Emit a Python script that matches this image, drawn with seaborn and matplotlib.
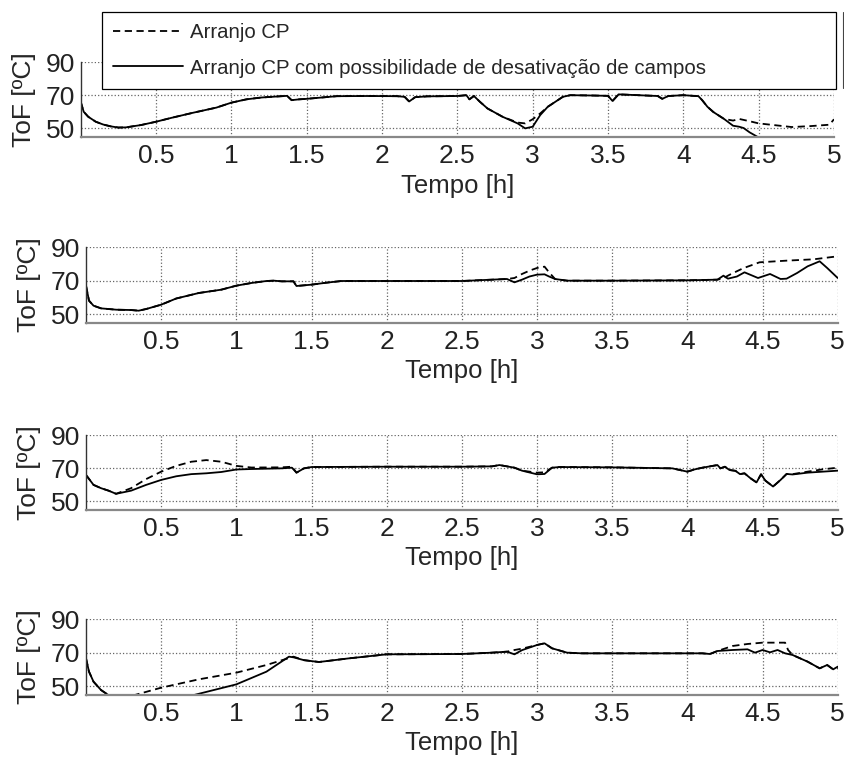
import numpy as np
import pandas as pd
import matplotlib
matplotlib.use("Agg")
import matplotlib.pyplot as plt
import seaborn as sns
from matplotlib.lines import Line2D

# --- Dados (tempo [h], ToF [ºC]) ---
# Painel 1
t1_cp = [0, 0.02, 0.05, 0.1, 0.15, 0.2, 0.25, 0.3, 0.4, 0.5, 0.6, 0.75, 0.9, 1.0, 1.1, 1.2, 1.3, 1.37, 1.4,
         1.45, 1.5, 1.6, 1.7, 1.9, 2.1, 2.15, 2.18, 2.22, 2.3, 2.5, 2.56, 2.58, 2.61, 2.65, 2.7, 2.8, 2.9,
         2.95, 3.0, 3.05, 3.1, 3.15, 3.2, 3.25, 3.4, 3.5, 3.53, 3.57, 3.7, 3.83, 3.86, 3.9, 4.0, 4.1, 4.125,
         4.16, 4.2, 4.27, 4.33, 4.37, 4.4, 4.44, 4.5, 4.6, 4.72, 4.85, 4.97, 5.0]
y1_cp = [66, 60, 57, 54, 52.3, 51.2, 50.5, 50.6, 52, 54, 56.3, 59.5, 62.5, 65.5, 67.5, 68.6, 69.2, 69.6, 67,
         67.5, 67.8, 68.6, 69.4, 69.5, 69.4, 69, 66.2, 68.8, 69.3, 69.5, 70, 67.5, 69.5, 66, 62, 57, 53.5,
         53, 55.5, 59, 63, 66, 69, 70, 69.8, 69.6, 66.5, 70.5, 70, 69.5, 67.8, 69.5, 70, 69.4, 67,
         63, 59.8, 55.7, 54.7, 55.7, 55.1, 54.3, 53, 52, 50.8, 51.4, 52.2, 55.5]
t1_des = [0, 0.02, 0.05, 0.1, 0.15, 0.2, 0.25, 0.3, 0.4, 0.5, 0.6, 0.75, 0.9, 1.0, 1.1, 1.2, 1.3, 1.37, 1.4,
          1.45, 1.5, 1.6, 1.7, 1.9, 2.1, 2.15, 2.18, 2.22, 2.3, 2.5, 2.56, 2.58, 2.61, 2.65, 2.7, 2.8, 2.9,
          2.95, 3.0, 3.05, 3.1, 3.15, 3.2, 3.25, 3.4, 3.5, 3.53, 3.57, 3.7, 3.83, 3.86, 3.9, 4.0, 4.1, 4.125,
          4.16, 4.2, 4.27, 4.33, 4.37, 4.4, 4.44, 4.5, 4.55]
y1_des = [66, 60, 57, 54, 52.3, 51.2, 50.5, 50.6, 52, 54, 56.3, 59.5, 62.5, 65.5, 67.5, 68.6, 69.2, 69.6, 67,
          67.5, 67.8, 68.6, 69.4, 69.5, 69.4, 69, 66.2, 68.8, 69.3, 69.5, 70, 67.5, 69.5, 66, 62, 57, 53,
          50, 51, 58, 63, 66, 69, 70, 69.8, 69.6, 66.5, 70.5, 70, 69.5, 67.8, 69.5, 70, 69.4, 67,
          63, 59.8, 55.7, 51.6, 51, 50.2, 47.6, 44.5, 42]

# Painel 2
t2_cp = [0, 0.02, 0.05, 0.1, 0.2, 0.3, 0.35, 0.4, 0.5, 0.6, 0.75, 0.9, 1.0, 1.1, 1.2, 1.25, 1.3, 1.38, 1.4,
         1.5, 1.6, 1.7, 2.0, 2.5, 2.7, 2.8, 2.85, 2.9, 2.95, 3.0, 3.05, 3.08, 3.12, 3.2, 3.5, 4.0, 4.2,
         4.24, 4.28, 4.37, 4.48, 4.66, 4.84, 5.0]
y2_cp = [67, 58, 55, 53.4, 52.6, 52.4, 52, 53, 55.6, 59.3, 62.6, 64.6, 67, 68.6, 69.8, 70, 69.6, 69.6, 66.8,
         67.6, 68.8, 69.8, 69.8, 69.8, 70.6, 71, 71.6, 74, 76, 77.6, 78.4, 75, 71, 70, 70, 70.2, 70.6,
         71.5, 73.5, 77.4, 81, 82, 82.8, 84.6]
t2_des = [0, 0.02, 0.05, 0.1, 0.2, 0.3, 0.35, 0.4, 0.5, 0.6, 0.75, 0.9, 1.0, 1.1, 1.2, 1.25, 1.3, 1.38, 1.4,
          1.5, 1.6, 1.7, 2.0, 2.5, 2.7, 2.8, 2.85, 2.9, 2.95, 3.0, 3.05, 3.08, 3.12, 3.2, 3.5, 4.0, 4.2,
          4.24, 4.27, 4.33, 4.38, 4.47, 4.55, 4.62, 4.66, 4.73, 4.8, 4.88, 4.93, 5.0]
y2_des = [67, 58, 55, 53.4, 52.6, 52.4, 52, 53, 55.6, 59.3, 62.6, 64.6, 67, 68.6, 69.8, 70, 69.6, 69.6, 66.8,
          67.6, 68.8, 69.8, 69.8, 69.8, 70.6, 71, 69, 70.6, 72.5, 73.6, 73.8, 72.5, 71, 70, 70, 70.2, 70.6,
          73, 71.2, 72.5, 75, 71.6, 74, 71, 71.2, 74.6, 78.6, 81.6, 77.6, 71.6]

# Painel 3
t3_cp = [0, 0.05, 0.1, 0.15, 0.2, 0.3, 0.4, 0.5, 0.6, 0.7, 0.8, 0.9, 1.0, 1.1, 1.3, 1.37, 1.4, 1.45, 1.5,
         2.0, 2.5, 2.7, 2.75, 2.85, 2.9, 3.0, 3.05, 3.1, 3.15, 3.5, 3.9, 4.0, 4.05, 4.1, 4.2, 4.22, 4.25,
         4.28, 4.32, 4.35, 4.38, 4.42, 4.46, 4.49, 4.52, 4.57, 4.62, 4.66, 4.7, 4.8, 4.9, 5.0]
y3_cp = [66, 60, 58, 56.5, 54.6, 58, 63.5, 68, 71.5, 74, 75, 74, 71.5, 70.5, 70.6, 71, 67.4, 70, 70.8,
         71, 71, 71.2, 72, 70.4, 68.6, 67.4, 67.6, 70.4, 70.8, 70.6, 70, 68, 69.4, 70.4, 72, 70, 71,
         69, 68.5, 66.5, 67, 64, 61.5, 66.4, 62.5, 59, 63, 66.6, 66.5, 68, 69.4, 70.4]
t3_des = [0, 0.05, 0.1, 0.15, 0.2, 0.3, 0.4, 0.5, 0.6, 0.7, 0.8, 0.9, 1.0, 1.1, 1.3, 1.37, 1.4, 1.45, 1.5,
          2.0, 2.5, 2.7, 2.75, 2.85, 2.9, 3.0, 3.05, 3.1, 3.15, 3.5, 3.9, 4.0, 4.05, 4.1, 4.2, 4.22, 4.25,
          4.28, 4.32, 4.35, 4.38, 4.42, 4.46, 4.49, 4.52, 4.57, 4.62, 4.66, 4.7, 4.8, 4.9, 5.0]
y3_des = [66, 60, 58, 56.5, 54.6, 56.5, 60, 63, 65.2, 66.5, 67, 67.8, 69.3, 69.6, 70, 70.4, 67.4, 70, 70.8,
          71, 71, 71.2, 72, 70.4, 68.6, 66.4, 66.6, 70.4, 70.8, 70.6, 70, 68, 69.4, 70.4, 72, 70, 71,
          69, 68.5, 66.5, 67, 64, 61.5, 66.4, 62.5, 59, 63, 66.6, 66.3, 67.4, 68, 68.6]

# Painel 4
t4_cp = [0, 0.02, 0.05, 0.1, 0.15, 0.2, 0.3, 0.5, 0.75, 1.0, 1.2, 1.38, 1.45, 1.55, 1.75, 2.0, 2.5, 2.7,
         2.8, 2.85, 2.9, 3.0, 3.05, 3.1, 3.2, 3.3, 4.1, 4.15, 4.2, 4.3, 4.4, 4.5, 4.65, 4.67, 4.7, 4.8,
         4.88, 4.93, 4.97, 5.0]
y4_cp = [66.6, 58.6, 52.6, 47.6, 44.5, 42, 44, 49, 54, 58, 62.6, 67.6, 65.5, 64.4, 66.6, 69, 69.2, 70,
         70.6, 71.6, 72.4, 74.6, 75.6, 72.6, 70, 69.6, 69.6, 69.2, 71, 74, 75.2, 76, 76, 71.6, 68.6, 64.6,
         60.6, 62.6, 60, 60.6]
t4_des = [0, 0.02, 0.05, 0.1, 0.15, 0.2, 0.7, 0.85, 1.0, 1.2, 1.35, 1.38, 1.45, 1.55, 1.75, 2.0, 2.5, 2.7,
          2.8, 2.85, 2.9, 3.0, 3.05, 3.1, 3.2, 3.3, 4.1, 4.15, 4.2, 4.3, 4.4, 4.45, 4.5, 4.55, 4.6, 4.65,
          4.7, 4.8, 4.88, 4.93, 4.97, 5.0]
y4_des = [66.6, 58.6, 52.6, 47.6, 44.5, 42, 44.2, 47.6, 51, 58.6, 67.6, 67.2, 65.5, 64.4, 66.6, 69, 69.2, 70,
          70.6, 69, 71.5, 74.6, 75.6, 72.6, 70, 69.6, 69.6, 69.2, 71, 71.6, 72, 70, 71.6, 70.2, 71.6, 69.6,
          68.6, 64.6, 60.6, 62.6, 60, 61.6]

paineis = [(t1_cp, y1_cp, t1_des, y1_des), (t2_cp, y2_cp, t2_des, y2_des),
           (t3_cp, y3_cp, t3_des, y3_des), (t4_cp, y4_cp, t4_des, y4_des)]

label_cp = "Arranjo CP"
label_des = "Arranjo CP com possibilidade de desativação de campos"
xticks = [0.5, 1, 1.5, 2, 2.5, 3, 3.5, 4, 4.5, 5]
xticklabels = ["0.5", "1", "1.5", "2", "2.5", "3", "3.5", "4", "4.5", "5"]
yticks = [50, 70, 90]

sns.set_style("white")
plt.rcParams["font.family"] = ["Liberation Sans", "DejaVu Sans"]

W, H = 845, 760
fig = plt.figure(figsize=(W / 100, H / 100), dpi=100)

# posições dos eixos em pixels: (esquerda, topo, direita, base)
boxes = [(80.7, 62, 834, 137), (86, 247.3, 837.7, 322.7),
         (86, 435.3, 837.7, 510), (86, 619.3, 837.7, 694.7)]

dash = (0, (4, 2.5))
for (tc, yc, td, yd), (l, t, r, b) in zip(paineis, boxes):
    ax = fig.add_axes([l / W, 1 - b / H, (r - l) / W, (b - t) / H])
    df_cp = pd.DataFrame({"Tempo": tc, "ToF": yc})
    df_des = pd.DataFrame({"Tempo": td, "ToF": yd})
    sns.lineplot(data=df_cp, x="Tempo", y="ToF", ax=ax, color="black", lw=1.3,
                 linestyle=dash, estimator=None, sort=False)
    sns.lineplot(data=df_des, x="Tempo", y="ToF", ax=ax, color="black", lw=1.3,
                 estimator=None, sort=False)
    ax.set_xlim(0, 5)
    ax.set_ylim(44.8, 90)
    ax.set_xticks(xticks)
    ax.set_xticklabels(xticklabels)
    ax.set_yticks(yticks)
    ax.grid(True, linestyle=":", color="#666666", linewidth=0.9)
    ax.tick_params(axis="both", direction="in", length=5, labelsize=19, colors="#222222")
    ax.tick_params(axis="x", pad=5, color="#888888")
    ax.tick_params(axis="y", pad=4)
    for s in ["top", "right"]:
        ax.spines[s].set_visible(False)
    ax.spines["left"].set_color("#333333")
    ax.spines["left"].set_linewidth(1.0)
    ax.spines["bottom"].set_color("#888888")
    ax.spines["bottom"].set_linewidth(1.6)
    ax.set_xlabel("Tempo [h]", fontsize=18.5, labelpad=4)
    ax.set_ylabel("ToF [ºC]", fontsize=19)
    ax.yaxis.set_label_coords(-45 / (r - l), 0.5)

handles = [Line2D([], [], color="black", lw=1.3, linestyle=dash),
           Line2D([], [], color="black", lw=1.3)]
leg = fig.legend(handles, [label_cp, label_des], loc="upper left",
                 bbox_to_anchor=(102 / W, 1 - 88 / H, (836 - 102) / W, (88 - 12) / H),
                 mode="expand", fontsize=14.7, frameon=True, fancybox=False,
                 framealpha=1, edgecolor="black", borderpad=0.55, labelspacing=0.8,
                 handlelength=3.4, handletextpad=0.35, borderaxespad=0)
leg.get_frame().set_linewidth(0.9)

fig.add_artist(Line2D([843 / W, 843 / W], [1 - 12 / H, 1 - 88 / H], color="#444444", lw=0.8))

fig.savefig("out.png", dpi=100)
